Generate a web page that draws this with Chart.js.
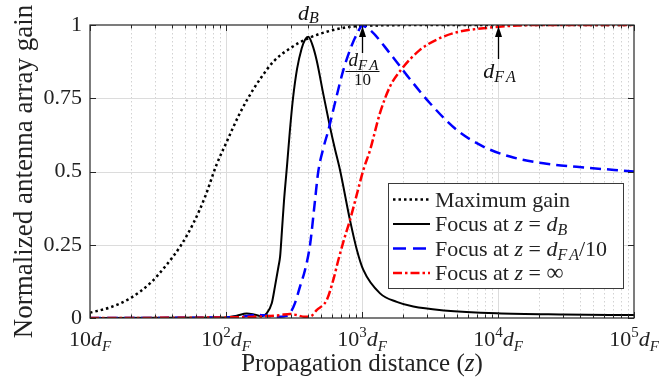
<!DOCTYPE html>
<html>
<head>
<meta charset="utf-8">
<script src="https://cdn.jsdelivr.net/npm/chart.js@4/dist/chart.umd.min.js"></script>
<style>
  html, body { margin: 0; padding: 0; background: #ffffff; }
  #wrap { width: 662px; height: 385px; }
</style>
</head>
<body>
<div id="wrap"><canvas id="c" width="662" height="385"></canvas></div>
<script>
// ---------------- data (propagation distance in units of d_F) ----------------
const maxGainZ = [10, 14, 19.7, 27.6, 35.6, 45.9, 57.5, 70.2, 85.5, 100, 126.8, 158.6, 177.8, 223, 295, 403, 550, 771, 1000, 1500, 3000, 100000];
const maxGainG = [0.018, 0.036, 0.067, 0.118, 0.175, 0.243, 0.323, 0.414, 0.525, 0.596, 0.70, 0.78, 0.815, 0.875, 0.92, 0.955, 0.977, 0.992, 0.997, 0.999, 1.0, 1.0];

const focusDBZ = [10, 100, 120, 142, 160, 183, 199, 217, 229, 243, 250, 258, 267, 281, 295, 311, 333, 360, 381, 403, 430, 464, 519, 580, 630, 689, 816, 914, 1023, 1357, 1800, 2383, 4000, 9780, 30000, 100000];
const focusDBG = [0, 0.002, 0.008, 0.015, 0.012, 0.006, 0.016, 0.05, 0.107, 0.175, 0.21, 0.30, 0.40, 0.52, 0.64, 0.75, 0.85, 0.92, 0.95, 0.96, 0.935, 0.88, 0.765, 0.655, 0.58, 0.505, 0.334, 0.235, 0.164, 0.084, 0.055, 0.039, 0.026, 0.016, 0.012, 0.01];

const focusDFA10Z = [10, 100, 140, 169, 200, 240, 270, 295, 321, 350, 381, 415, 451, 477, 520, 565, 632, 729, 840, 930, 1000, 1146, 1607, 2133, 3162, 4966, 7796, 12250, 21550, 37930, 100000];
const focusDFA10G = [0, 0.002, 0.006, 0.011, 0.008, 0.004, 0.006, 0.016, 0.05, 0.107, 0.164, 0.25, 0.40, 0.50, 0.58, 0.64, 0.733, 0.846, 0.93, 0.975, 0.997, 0.983, 0.903, 0.829, 0.733, 0.642, 0.585, 0.551, 0.528, 0.516, 0.50];

const focusInfZ = [10, 100, 200, 250, 295, 330, 380, 420, 464, 550, 615, 670, 740, 816, 914, 1023, 1146, 1357, 1607, 1959, 2667, 3538, 4966, 8265, 19280, 100000];
const focusInfG = [0, 0.002, 0.006, 0.01, 0.014, 0.01, 0.004, 0.006, 0.027, 0.061, 0.13, 0.198, 0.27, 0.334, 0.42, 0.505, 0.573, 0.70, 0.79, 0.85, 0.915, 0.95, 0.975, 0.99, 1.0, 1.0];

const xTickExponents = [1, 2, 3, 4, 5];
const yTickValues = [0, 0.25, 0.5, 0.75, 1];
const yTickLabels = ['0', '0.25', '0.5', '0.75', '1'];
const annotDB = 403, annotDFA10 = 1000, annotDFA = 10000;
const xTitle = 'Propagation distance (';
const xTitleVar = 'z';
const yTitle = 'Normalized antenna array gain';

// ---------------- helpers ----------------
const SERIF = '"Liberation Serif", "Times New Roman", serif';
const TXT = '#222222';
const pts = (zs, gs) => zs.map((z, i) => ({ x: z, y: gs[i] }));

function rich(ctx, parts, x, y, align) {
  let w = 0;
  parts.forEach(p => { ctx.font = p.f; p.w = ctx.measureText(p.t).width + (p.gap || 0); w += p.w; });
  let cx = align === 'left' ? x : (align === 'right' ? x - w : x - w / 2);
  ctx.textAlign = 'left'; ctx.textBaseline = 'alphabetic';
  parts.forEach(p => { ctx.font = p.f; ctx.fillText(p.t, cx, y + (p.dy || 0)); cx += p.w; });
  return w;
}
const N = s => `${s}px ${SERIF}`;
const I = s => `italic ${s}px ${SERIF}`;

const legendEntries = [
  { parts: [{ t: 'Maximum gain', f: N(22) }], color: '#000', width: 2.5, dash: [2.5, 3] },
  { parts: [{ t: 'Focus at ', f: N(22) }, { t: 'z', f: I(22) }, { t: ' = ', f: N(22) }, { t: 'd', f: I(22) }, { t: 'B', f: I(16), dy: 4 }], color: '#000', width: 2, dash: [] },
  { parts: [{ t: 'Focus at ', f: N(22) }, { t: 'z', f: I(22) }, { t: ' = ', f: N(22) }, { t: 'd', f: I(22) }, { t: 'F', f: I(16), dy: 4, gap: 2 }, { t: 'A', f: I(16), dy: 4 }, { t: '/10', f: N(22) }], color: '#0000ff', width: 2.5, dash: [13, 7] },
  { parts: [{ t: 'Focus at ', f: N(22) }, { t: 'z', f: I(22) }, { t: ' = ', f: N(22) }, { t: '\u221E', f: N(24) }], color: '#ff0000', width: 2.5, dash: [9, 3, 2.5, 3] }
];

function arrow(ctx, x, yTip, yTail) {
  ctx.strokeStyle = '#000'; ctx.fillStyle = '#000'; ctx.lineWidth = 1.3; ctx.setLineDash([]);
  ctx.beginPath(); ctx.moveTo(x, yTail); ctx.lineTo(x, yTip + 6); ctx.stroke();
  ctx.beginPath(); ctx.moveTo(x, yTip); ctx.lineTo(x - 3.5, yTip + 11); ctx.lineTo(x + 3.5, yTip + 11); ctx.closePath(); ctx.fill();
}

const deco = {
  id: 'deco',
  beforeDatasetsDraw(chart) {
    const { ctx, chartArea: a, scales: { x, y } } = chart;
    ctx.save();
    ctx.lineWidth = 1;
    ctx.strokeStyle = '#d2d2d2'; ctx.setLineDash([1.5, 2.5]);
    for (let e = 1; e < 5; e++) for (let m = 2; m < 10; m++) {
      const px = Math.round(x.getPixelForValue(m * Math.pow(10, e))) + 0.5;
      ctx.beginPath(); ctx.moveTo(px, a.top); ctx.lineTo(px, a.bottom); ctx.stroke();
    }
    ctx.setLineDash([]); ctx.strokeStyle = '#dcdcdc';
    for (let e = 2; e < 5; e++) {
      const px = Math.round(x.getPixelForValue(Math.pow(10, e))) + 0.5;
      ctx.beginPath(); ctx.moveTo(px, a.top); ctx.lineTo(px, a.bottom); ctx.stroke();
    }
    [0.25, 0.5, 0.75].forEach(v => {
      const py = Math.round(y.getPixelForValue(v)) + 0.5;
      ctx.beginPath(); ctx.moveTo(a.left, py); ctx.lineTo(a.right, py); ctx.stroke();
    });
    ctx.restore();
  },
  afterDatasetsDraw(chart) {
    const { ctx, chartArea: a, scales: { x, y } } = chart;
    ctx.save();
    // box
    ctx.strokeStyle = '#262626'; ctx.lineWidth = 1.2; ctx.setLineDash([]);
    ctx.strokeRect(a.left, a.top, a.right - a.left, a.bottom - a.top);
    // ticks
    ctx.lineWidth = 1;
    for (let e = 1; e <= 5; e++) {
      for (let m = 1; m < 10; m++) {
        if (e === 5 && m > 1) break;
        const px = Math.round(x.getPixelForValue(m * Math.pow(10, e))) + 0.5;
        const L = m === 1 ? 6 : 3.5;
        ctx.beginPath(); ctx.moveTo(px, a.bottom); ctx.lineTo(px, a.bottom - L); ctx.stroke();
        ctx.beginPath(); ctx.moveTo(px, a.top); ctx.lineTo(px, a.top + L); ctx.stroke();
      }
    }
    yTickValues.forEach(v => {
      const py = Math.round(y.getPixelForValue(v)) + 0.5;
      ctx.beginPath(); ctx.moveTo(a.left, py); ctx.lineTo(a.left + 6, py); ctx.stroke();
      ctx.beginPath(); ctx.moveTo(a.right, py); ctx.lineTo(a.right - 6, py); ctx.stroke();
    });
    // x tick labels
    ctx.fillStyle = TXT;
    xTickExponents.forEach(e => {
      const px = x.getPixelForValue(Math.pow(10, e));
      const parts = [{ t: '10', f: N(22) }];
      if (e > 1) parts.push({ t: String(e), f: N(15), dy: -9 });
      parts.push({ t: 'd', f: I(22) }, { t: 'F', f: I(15), dy: 5 });
      rich(ctx, parts, px, a.bottom + 28, 'center');
    });
    // axis titles
    rich(ctx, [{ t: xTitle, f: N(25) }, { t: xTitleVar, f: I(25) }, { t: ')', f: N(25) }], (a.left + a.right) / 2, 371, 'center');
    ctx.save();
    ctx.translate(32, (a.top + a.bottom) / 2);
    ctx.rotate(-Math.PI / 2);
    ctx.font = N(27); ctx.textAlign = 'center'; ctx.textBaseline = 'alphabetic';
    ctx.fillText(yTitle, 0, 0);
    ctx.restore();
    // annotations
    ctx.fillStyle = '#111';
    const xB = x.getPixelForValue(annotDB);
    rich(ctx, [{ t: 'd', f: I(22) }, { t: 'B', f: I(16), dy: 3 }], xB, 20, 'center');
    const x1 = Math.round(x.getPixelForValue(annotDFA10)) + 0.5;
    arrow(ctx, x1, a.top + 1, 53);
    ctx.fillStyle = '#111';
    rich(ctx, [{ t: 'd', f: I(19) }, { t: 'F', f: I(15), dy: 4, gap: 2 }, { t: 'A', f: I(15), dy: 4 }], x1 + 1, 66, 'center');
    ctx.lineWidth = 1; ctx.strokeStyle = '#111';
    ctx.beginPath(); ctx.moveTo(x1 - 17, 71.5); ctx.lineTo(x1 + 17, 71.5); ctx.stroke();
    ctx.font = N(17); ctx.textAlign = 'center'; ctx.fillText('10', x1, 85);
    const x2 = Math.round(x.getPixelForValue(annotDFA)) + 0.5;
    arrow(ctx, x2, a.top + 1, 59);
    ctx.fillStyle = '#111';
    rich(ctx, [{ t: 'd', f: I(22) }, { t: 'F', f: I(16), dy: 4, gap: 2 }, { t: 'A', f: I(16), dy: 4 }], x2 + 1, 78, 'center');
    // legend
    const lx = 388, ly = 183, lw = 235, lh = 105;
    ctx.fillStyle = '#ffffff'; ctx.fillRect(lx, ly, lw, lh);
    ctx.strokeStyle = '#3a3a3a'; ctx.lineWidth = 1; ctx.setLineDash([]);
    ctx.strokeRect(lx + 0.5, ly + 0.5, lw, lh);
    legendEntries.forEach((en, i) => {
      const cy = ly + 16.5 + i * 24.5;
      ctx.strokeStyle = en.color; ctx.lineWidth = en.width; ctx.setLineDash(en.dash);
      ctx.beginPath(); ctx.moveTo(lx + 5, cy); ctx.lineTo(lx + 42, cy); ctx.stroke();
      ctx.setLineDash([]);
      ctx.fillStyle = TXT;
      rich(ctx, en.parts, lx + 47, cy + 7, 'left');
    });
    ctx.restore();
  }
};

const common = { pointRadius: 0, fill: false, cubicInterpolationMode: 'monotone', borderJoinStyle: 'round' };

new Chart(document.getElementById('c'), {
  type: 'line',
  data: {
    datasets: [
      Object.assign({ label: 'Maximum gain', data: pts(maxGainZ, maxGainG), borderColor: '#000000', borderWidth: 2.5, borderDash: [2.5, 3], order: 3 }, common),
      Object.assign({ label: 'Focus at z = d_B', data: pts(focusDBZ, focusDBG), borderColor: '#000000', borderWidth: 2, order: 2 }, common),
      Object.assign({ label: 'Focus at z = d_FA/10', data: pts(focusDFA10Z, focusDFA10G), borderColor: '#0000ff', borderWidth: 2.5, borderDash: [11, 6], order: 1 }, common),
      Object.assign({ label: 'Focus at z = inf', data: pts(focusInfZ, focusInfG), borderColor: '#ff0000', borderWidth: 2.5, borderDash: [9, 3, 2.5, 3], order: 0 }, common)
    ]
  },
  options: {
    responsive: false,
    animation: false,
    devicePixelRatio: 1,
    layout: { padding: { left: 0, right: 28, top: 25, bottom: 0 } },
    plugins: { legend: { display: false }, tooltip: { enabled: false } },
    scales: {
      x: {
        type: 'logarithmic', min: 10, max: 100000,
        ticks: { display: false },
        grid: { display: false, drawTicks: false },
        border: { display: false },
        afterFit: s => { s.height = 67; }
      },
      y: {
        type: 'linear', min: 0, max: 1,
        afterBuildTicks: s => { s.ticks = yTickValues.map(v => ({ value: v })); },
        ticks: {
          padding: 8, color: TXT, font: { family: '"Liberation Serif", "Times New Roman", serif', size: 22 },
          callback: v => { const i = yTickValues.indexOf(v); return i >= 0 ? yTickLabels[i] : ''; }
        },
        grid: { display: false, drawTicks: false },
        border: { display: false },
        afterFit: s => { s.width = 90; }
      }
    }
  },
  plugins: [deco]
});
</script>
</body>
</html>
